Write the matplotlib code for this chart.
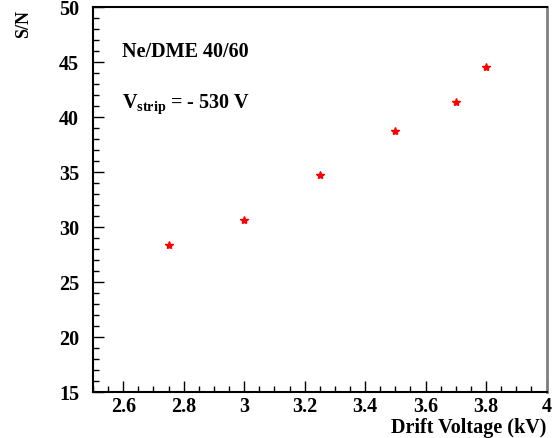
import matplotlib
matplotlib.use('Agg')
import matplotlib.pyplot as plt
from matplotlib.ticker import MultipleLocator

drift_voltage = [2.75, 3.0, 3.25, 3.5, 3.7, 3.8]
signal_noise = [28.35, 30.6, 34.7, 38.75, 41.4, 44.5]
x_ticks = [2.6, 2.8, 3.0, 3.2, 3.4, 3.6, 3.8, 4.0]
x_tick_labels = ['2.6', '2.8', '3', '3.2', '3.4', '3.6', '3.8', '4']

plt.rcParams['font.family'] = ['Liberation Serif', 'DejaVu Serif']
plt.rcParams['font.weight'] = 'bold'
plt.rcParams['mathtext.fontset'] = 'custom'
plt.rcParams['mathtext.rm'] = 'Liberation Serif:bold'
plt.rcParams['mathtext.bf'] = 'Liberation Serif:bold'


def main():
    fig = plt.figure(figsize=(5.56, 4.39), dpi=100)
    ax = fig.add_axes([0.1673, 0.1048, 0.8157, 0.877])

    ax.plot(drift_voltage, signal_noise, linestyle='none', marker='*',
            color='red', markersize=6)

    ax.set_xlim(2.5, 4.0)
    ax.set_ylim(15, 50)
    ax.set_xticks(x_ticks)
    ax.set_xticklabels(x_tick_labels)
    ax.xaxis.set_minor_locator(MultipleLocator(0.05))
    ax.yaxis.set_major_locator(MultipleLocator(5))
    ax.yaxis.set_minor_locator(MultipleLocator(1))

    ax.tick_params(which='both', direction='in', top=False, right=False,
                   labelsize=14.5)
    ax.tick_params(which='major', length=8, width=1)
    ax.tick_params(which='minor', length=4, width=1)
    ax.tick_params(axis='x', pad=3)
    ax.tick_params(axis='y', pad=10)

    for side in ['left', 'bottom', 'top']:
        ax.spines[side].set_linewidth(1.5)
    ax.spines['right'].set_color('gray')
    ax.spines['right'].set_linewidth(2)

    fig.text(0.982, 0.0137, 'Drift Voltage (kV)', ha='right', va='baseline',
             fontsize=14.5, fontweight='bold')
    fig.text(0.042, 0.977, 'S/N', rotation=90, ha='center', va='top',
             fontsize=13, fontweight='bold')

    ax.text(0.063, 0.872, 'Ne/DME 40/60', transform=ax.transAxes,
            va='baseline', fontsize=14.5, fontweight='bold')
    ax.text(0.063, 0.742, r'V$_{\mathbf{strip}}$ = - 530 V', transform=ax.transAxes,
            va='baseline', fontsize=14.5, fontweight='bold')

    fig.savefig('out.png', dpi=100)


if __name__ == '__main__':
    main()
